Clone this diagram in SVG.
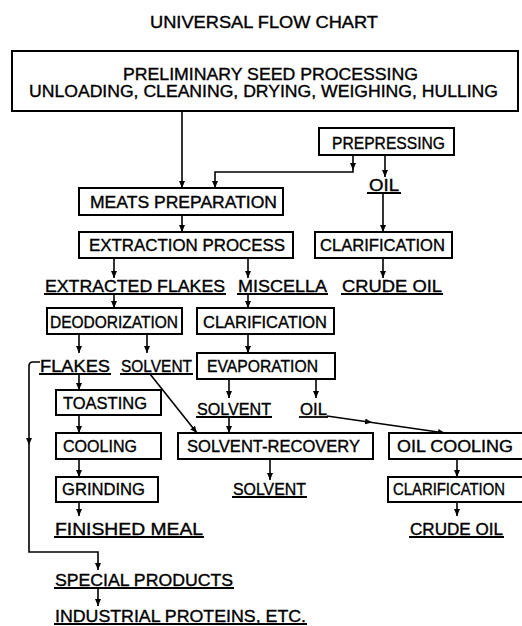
<svg xmlns="http://www.w3.org/2000/svg" width="522" height="626" viewBox="0 0 522 626">
<style>
text{font-family:"Liberation Sans","DejaVu Sans",Arial,sans-serif;font-size:16px;fill:#000;stroke:#000;stroke-width:0.35;}
.box{fill:#fff;stroke:#000;stroke-width:2;}
.ul{stroke:#000;stroke-width:1.8;}
.c{fill:none;stroke:#000;stroke-width:1.6;}
</style>
<defs>
<marker id="ah" markerUnits="userSpaceOnUse" markerWidth="8" markerHeight="8" refX="4" refY="7" orient="auto-start-reverse" viewBox="0 0 8 8">
<path d="M1,1 L7,1 L4,7 Z" fill="#000" transform="rotate(-90 4 4)"/>
</marker>
<marker id="a" markerUnits="userSpaceOnUse" markerWidth="8" markerHeight="8" refX="7" refY="4" orient="auto" viewBox="0 0 8 8">
<path d="M0,1 L7,4 L0,7 Z" fill="#000"/>
</marker>
</defs>
<rect width="522" height="626" fill="#fff"/>
<text x="150" y="28" textLength="228" lengthAdjust="spacingAndGlyphs">UNIVERSAL FLOW CHART</text>

<g id="connectors">
<path class="c" d="M182,111 V188" marker-end="url(#a)"/>
<path class="c" d="M353,155 V170" marker-end="url(#a)"/>
<path class="c" d="M353,170 V172 H215 V188" marker-end="url(#a)"/>
<path class="c" d="M385,155 V177" marker-end="url(#a)"/>
<path class="c" d="M383,193 V232" marker-end="url(#a)"/>
<path class="c" d="M182,215 V232" marker-end="url(#a)"/>
<path class="c" d="M114,258 V278" marker-end="url(#a)"/>
<path class="c" d="M248,258 V278" marker-end="url(#a)"/>
<path class="c" d="M383,258 V278" marker-end="url(#a)"/>
<path class="c" d="M114,294 V308" marker-end="url(#a)"/>
<path class="c" d="M248,294 V308" marker-end="url(#a)"/>
<path class="c" d="M79,334 V353" marker-end="url(#a)"/>
<path class="c" d="M147,334 V353" marker-end="url(#a)"/>
<path class="c" d="M248,334 V353" marker-end="url(#a)"/>
<path class="c" d="M229,379 V398" marker-end="url(#a)"/>
<path class="c" d="M316,379 V398" marker-end="url(#a)"/>
<path class="c" d="M79,374 V390" marker-end="url(#a)"/>
<path class="c" d="M79,415 V433" marker-end="url(#a)"/>
<path class="c" d="M79,459 V477" marker-end="url(#a)"/>
<path class="c" d="M79,502 V516" marker-end="url(#a)"/>
<path class="c" d="M229,417 V433" marker-end="url(#a)"/>
<path class="c" d="M150,374 L197,433" marker-end="url(#a)"/>
<path class="c" d="M270,459 V480" marker-end="url(#a)"/>
<path class="c" d="M457,459 V477" marker-end="url(#a)"/>
<path class="c" d="M457,502 V516" marker-end="url(#a)"/>
<path class="c" d="M327,416 L372,422.5" marker-end="url(#a)"/>
<path class="c" d="M372,422.5 L445,433" marker-end="url(#a)"/>
<path class="c" d="M40,362 H33 Q29,362 29,366 V445" marker-end="url(#a)"/>
<path class="c" d="M29,445 V552 H98 V570" marker-end="url(#a)"/>
<path class="c" d="M98,588 V606" marker-end="url(#a)"/>
</g>

<g id="preliminary">
<rect class="box" x="12" y="51" width="506" height="60"/>
<text x="123" y="80" textLength="295" lengthAdjust="spacingAndGlyphs">PRELIMINARY SEED PROCESSING</text>
<text x="29" y="97" textLength="469" lengthAdjust="spacingAndGlyphs">UNLOADING, CLEANING, DRYING, WEIGHING, HULLING</text>
</g>
<g id="prepressing">
<rect class="box" x="319" y="128" width="135" height="27"/>
<text x="332" y="149" textLength="113" lengthAdjust="spacingAndGlyphs">PREPRESSING</text>
</g>
<g id="oil1">
<text x="369" y="191" textLength="30" lengthAdjust="spacingAndGlyphs">OIL</text>
<line class="ul" x1="367" y1="193" x2="401" y2="193"/>
</g>
<g id="meats">
<rect class="box" x="79" y="188" width="204" height="27"/>
<text x="90" y="208" textLength="187" lengthAdjust="spacingAndGlyphs">MEATS PREPARATION</text>
</g>
<g id="extraction">
<rect class="box" x="79" y="232" width="214" height="26"/>
<text x="89" y="251" textLength="196" lengthAdjust="spacingAndGlyphs">EXTRACTION PROCESS</text>
</g>
<g id="clar1">
<rect class="box" x="315" y="232" width="137" height="26"/>
<text x="320" y="251" textLength="125" lengthAdjust="spacingAndGlyphs">CLARIFICATION</text>
</g>
<g id="extracted-flakes">
<text x="45" y="292" textLength="180" lengthAdjust="spacingAndGlyphs">EXTRACTED FLAKES</text>
<line class="ul" x1="44" y1="294" x2="226" y2="294"/>
</g>
<g id="miscella">
<text x="238" y="292" textLength="89" lengthAdjust="spacingAndGlyphs">MISCELLA</text>
<line class="ul" x1="237" y1="294" x2="328" y2="294"/>
</g>
<g id="crude1">
<text x="342" y="292" textLength="100" lengthAdjust="spacingAndGlyphs">CRUDE OIL</text>
<line class="ul" x1="341" y1="294" x2="443" y2="294"/>
</g>
<g id="deodorization">
<rect class="box" x="47" y="308" width="135" height="26"/>
<text x="50" y="328" textLength="128" lengthAdjust="spacingAndGlyphs">DEODORIZATION</text>
</g>
<g id="clar2">
<rect class="box" x="197" y="308" width="137" height="26"/>
<text x="203" y="328" textLength="124" lengthAdjust="spacingAndGlyphs">CLARIFICATION</text>
</g>
<g id="flakes">
<text x="40" y="372" textLength="70" lengthAdjust="spacingAndGlyphs">FLAKES</text>
<line class="ul" x1="39" y1="374" x2="111" y2="374"/>
</g>
<g id="solvent1">
<text x="121" y="372" textLength="71" lengthAdjust="spacingAndGlyphs">SOLVENT</text>
<line class="ul" x1="120" y1="374" x2="193" y2="374"/>
</g>
<g id="evaporation">
<rect class="box" x="197" y="353" width="138" height="26"/>
<text x="207" y="372" textLength="111" lengthAdjust="spacingAndGlyphs">EVAPORATION</text>
</g>
<g id="toasting">
<rect class="box" x="56" y="390" width="105" height="25"/>
<text x="63" y="409" textLength="84" lengthAdjust="spacingAndGlyphs">TOASTING</text>
</g>
<g id="solvent2">
<text x="197" y="415" textLength="74" lengthAdjust="spacingAndGlyphs">SOLVENT</text>
<line class="ul" x1="196" y1="417" x2="272" y2="417"/>
</g>
<g id="oil2">
<text x="300" y="415" textLength="27" lengthAdjust="spacingAndGlyphs">OIL</text>
<line class="ul" x1="299" y1="417" x2="328" y2="417"/>
</g>
<g id="cooling">
<rect class="box" x="56" y="433" width="105" height="26"/>
<text x="63" y="452" textLength="74" lengthAdjust="spacingAndGlyphs">COOLING</text>
</g>
<g id="solvent-recovery">
<rect class="box" x="178" y="433" width="195" height="26"/>
<text x="187" y="452" textLength="173" lengthAdjust="spacingAndGlyphs">SOLVENT-RECOVERY</text>
</g>
<g id="oil-cooling">
<rect class="box" x="389" y="433" width="140" height="26"/>
<text x="397" y="452" textLength="116" lengthAdjust="spacingAndGlyphs">OIL COOLING</text>
</g>
<g id="grinding">
<rect class="box" x="56" y="477" width="102" height="25"/>
<text x="62" y="495" textLength="83" lengthAdjust="spacingAndGlyphs">GRINDING</text>
</g>
<g id="solvent3">
<text x="233" y="495" textLength="73" lengthAdjust="spacingAndGlyphs">SOLVENT</text>
<line class="ul" x1="232" y1="497" x2="307" y2="497"/>
</g>
<g id="clar3">
<rect class="box" x="388" y="477" width="141" height="25"/>
<text x="393" y="495" textLength="112" lengthAdjust="spacingAndGlyphs">CLARIFICATION</text>
</g>
<g id="finished-meal">
<text x="55" y="535" textLength="148" lengthAdjust="spacingAndGlyphs">FINISHED MEAL</text>
<line class="ul" x1="54" y1="537" x2="204" y2="537"/>
</g>
<g id="crude2">
<text x="410" y="535" textLength="93" lengthAdjust="spacingAndGlyphs">CRUDE OIL</text>
<line class="ul" x1="409" y1="537" x2="504" y2="537"/>
</g>
<g id="special-products">
<text x="55" y="586" textLength="178" lengthAdjust="spacingAndGlyphs">SPECIAL PRODUCTS</text>
<line class="ul" x1="54" y1="588" x2="234" y2="588"/>
</g>
<g id="industrial">
<text x="55" y="622" textLength="251" lengthAdjust="spacingAndGlyphs">INDUSTRIAL PROTEINS, ETC.</text>
<line class="ul" x1="54" y1="624" x2="307" y2="624"/>
</g>
</svg>
